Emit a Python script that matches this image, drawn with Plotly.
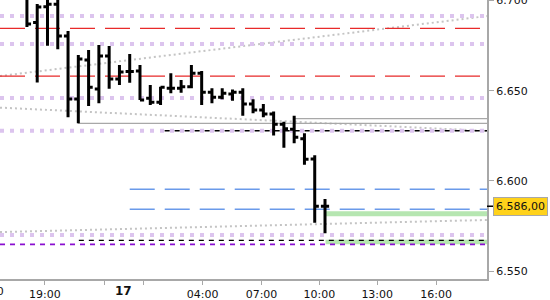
import plotly.graph_objects as go
import numpy as np

# ---- OHLC data (30-min bars) ----
opens  = [6.7010, 6.6877, 6.6965, 6.6978, 6.6803, 6.6454, 6.6670, 6.6509, 6.6692, 6.6565,
          6.6606, 6.6609, 6.6458, 6.6436, 6.6513, 6.6513, 6.6522, 6.6596, 6.6491, 6.6463,
          6.6482, 6.6491, 6.6426, 6.6393, 6.6371, 6.6314, 6.6286, 6.6234, 6.6122, 6.5860]
highs  = [6.7060, 6.6980, 6.7060, 6.7060, 6.6830, 6.6697, 6.6725, 6.6753, 6.6747, 6.6642,
          6.6703, 6.6642, 6.6531, 6.6522, 6.6596, 6.6559, 6.6642, 6.6609, 6.6513, 6.6513,
          6.6507, 6.6513, 6.6452, 6.6426, 6.6384, 6.6328, 6.6361, 6.6264, 6.6142, 6.5900]
lows   = [6.6852, 6.6545, 6.6749, 6.6729, 6.6353, 6.6319, 6.6415, 6.6430, 6.6511, 6.6531,
          6.6544, 6.6448, 6.6421, 6.6421, 6.6485, 6.6489, 6.6513, 6.6421, 6.6430, 6.6452,
          6.6444, 6.6361, 6.6375, 6.6353, 6.6251, 6.6184, 6.6209, 6.6090, 6.5769, 6.5710]
closes = [6.6869, 6.6963, 6.6978, 6.6803, 6.6454, 6.6675, 6.6519, 6.6692, 6.6565, 6.6603,
          6.6606, 6.6448, 6.6436, 6.6519, 6.6513, 6.6522, 6.6596, 6.6491, 6.6463, 6.6485,
          6.6491, 6.6426, 6.6393, 6.6371, 6.6314, 6.6289, 6.6242, 6.6120, 6.5860, 6.5860]

current_price = 6.586
current_label = "6.586,00"

# ---- x axis (bar index units) ----
x_range = [-2.62, 44.76]
tick_pos = [1.75, 7.57, 11.36, 17.09, 22.82, 28.45, 34.08, 39.81]
tick_labels = ["19:00", "", "", "04:00", "07:00", "10:00", "13:00", "16:00"]
day_label = "17"
day_pos = 9.42
left_cut_label = "16:00"

# ---- y axis ----
y_range = [6.5457, 6.7002]
y_ticks = [6.55, 6.60, 6.65, 6.70]

# ---- levels ----
lavender_levels = [6.6913, 6.6758, 6.6459, 6.6278, 6.5701]
red_levels = [6.6845, 6.6580]
blue_levels = [6.5954, 6.5843]
blue_start = 10.0
black_levels = [6.6278, 6.5671]
black_starts = [13.4, 5.05]
purple_level = 6.5649
gray_levels = [6.6319, 6.6345]
gray_starts = [4.95, 26.0]
green_levels = [6.5819, 6.5662]
green_widths = [5, 4.5]
green_start = 29.05
trend_left = [6.6581, 6.6406, 6.5717]
trend_right = [6.6913, 6.6277, 6.5784]

xs = np.arange(len(opens))

fig = go.Figure()

shapes = []
def hline(y, x0, x1, color, width, dash):
    shapes.append(dict(type="line", xref="x", yref="y", x0=x0, x1=x1, y0=y, y1=y,
                       line=dict(color=color, width=width, dash=dash), layer="below"))

for g, w in zip(green_levels, green_widths):
    hline(g, green_start, x_range[1], "#B6E6B1", w, "solid")
for t0, t1 in zip(trend_left, trend_right):
    shapes.append(dict(type="line", xref="x", yref="y", x0=x_range[0], x1=x_range[1],
                       y0=t0, y1=t1, line=dict(color="#C4C4C4", width=2, dash="2px,3px"),
                       layer="below"))
for lv in lavender_levels:
    hline(lv, x_range[0], x_range[1], "#DCC4EE", 4, "4px,6px")
for r in red_levels:
    hline(r, x_range[0], x_range[1], "#E82A2A", 1.2, "25px,10px")
for b in blue_levels:
    hline(b, blue_start, x_range[1], "#6A9AEA", 1.5, "25px,10px")
for g, s in zip(gray_levels, gray_starts):
    hline(g, s, x_range[1], "#A8A8A8", 1.3, "solid")
for b, s in zip(black_levels, black_starts):
    hline(b, s, x_range[1], "#000000", 1.3, "5px,5px")
hline(purple_level, x_range[0], x_range[1], "#8A0FD0", 1.6, "5px,5px")

# current price tick on the axis
shapes.append(dict(type="line", xref="paper", yref="y", x0=1.0, x1=1.013,
                   y0=current_price, y1=current_price,
                   line=dict(color="#000000", width=1.5)))

fig.add_trace(go.Ohlc(
    x=xs, open=opens, high=highs, low=lows, close=closes,
    increasing=dict(line=dict(color="#000000", width=3)),
    decreasing=dict(line=dict(color="#000000", width=3)),
    tickwidth=0.4, hoverinfo="skip", showlegend=False))

font = dict(family="DejaVu Sans", size=11, color="#111111")

annotations = [
    dict(xref="x", yref="paper", x=day_pos, y=0, yshift=-12, yanchor="middle",
         xanchor="center", text="<b>%s</b>" % day_label, showarrow=False,
         font=dict(family="DejaVu Sans", size=12, color="#111111")),
    dict(xref="paper", yref="paper", x=-12 / 487, y=0, yshift=-12, yanchor="middle",
         xanchor="center", text=left_cut_label, showarrow=False, font=font),
    dict(xref="paper", yref="y", x=1.0, xshift=6, y=current_price, xanchor="left",
         yanchor="middle", text=current_label, showarrow=False, font=font,
         bgcolor="#FFD21A", bordercolor="#A8A8A8", borderwidth=1, borderpad=2),
]

fig.update_layout(
    width=550, height=300,
    margin=dict(l=0, r=63, t=0, b=21, autoexpand=False),
    paper_bgcolor="white", plot_bgcolor="white",
    shapes=shapes, annotations=annotations, showlegend=False,
    font=font,
    xaxis=dict(range=x_range, tickmode="array", tickvals=tick_pos, ticktext=tick_labels,
               showgrid=False, zeroline=False, showline=True, linecolor="#A8A8A8",
               linewidth=2, ticks="outside", ticklen=4, tickcolor="#A8A8A8",
               rangeslider=dict(visible=False), tickfont=font, fixedrange=True,
               automargin=False),
    yaxis=dict(range=y_range, side="right", tickmode="array", tickvals=y_ticks,
               tickformat=".3f", showgrid=False, zeroline=False, showline=True,
               linecolor="#A8A8A8", linewidth=2, ticks="outside", ticklen=5,
               tickcolor="#A8A8A8", tickfont=font, fixedrange=True,
               ticklabeloverflow="allow", automargin=False),
)

fig.write_html("out.html", config=dict(displayModeBar=False))
